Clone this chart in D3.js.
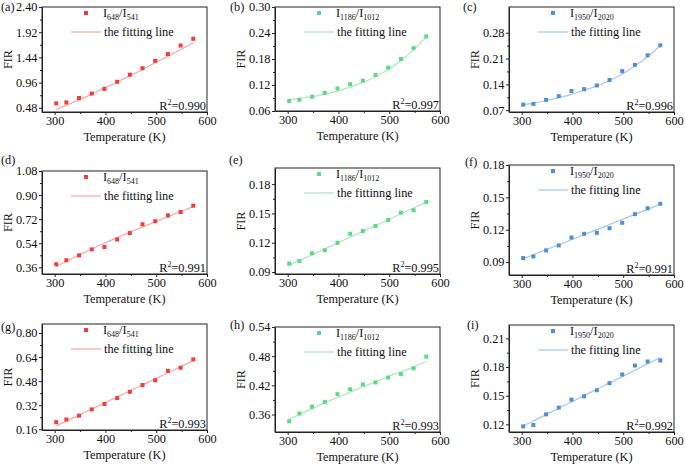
<!DOCTYPE html>
<html>
<head>
<meta charset="utf-8">
<script src="https://cdn.jsdelivr.net/npm/d3@7"></script>
<style>
  html, body { margin: 0; padding: 0; background: #fff; }
  svg { display: block; font-family: 'Liberation Serif', 'Times New Roman', serif; }
  .axis path, .axis line { stroke: #222; }
  .axis text { font-size: 12.3px; fill: #111; font-family: 'Liberation Serif', serif; }
</style>
</head>
<body>
<svg id="chart" width="685" height="466"></svg>
<script>
// temperatures (K) shared by all panels
var temps = [303, 323, 348, 373, 398, 423, 448, 473, 498, 523, 548, 573];
var xTicks = [300, 400, 500, 600];
var xMinor = [350, 450, 550];

var labels = ['(a)', '(b)', '(c)', '(d)', '(e)', '(f)', '(g)', '(h)', '(i)'];
var r2 = ['0.990', '0.997', '0.996', '0.991', '0.995', '0.991', '0.993', '0.993', '0.992'];
var ratios = [['648', '541'], ['1186', '1012'], ['1950', '2020']];
var fitNames = ['the fitting line', 'the fitting line', 'the fitting line',
                'the fitting line', 'the fittinng line', 'the fitting line',
                'the fitting line', 'the fitting line', 'the fitting line'];

// measured FIR values
var firA = [0.564, 0.583, 0.667, 0.751, 0.840, 0.976, 1.111, 1.234, 1.376, 1.505, 1.666, 1.794];
var firB = [0.083, 0.086, 0.093, 0.102, 0.112, 0.122, 0.130, 0.143, 0.160, 0.180, 0.205, 0.232];
var firC = [0.085, 0.087, 0.098, 0.108, 0.122, 0.127, 0.137, 0.152, 0.176, 0.193, 0.219, 0.246];
var firD = [0.383, 0.413, 0.449, 0.494, 0.512, 0.568, 0.616, 0.682, 0.705, 0.748, 0.773, 0.821];
var firE = [0.0986, 0.1013, 0.1092, 0.1123, 0.1199, 0.1292, 0.1319, 0.1371, 0.1433, 0.1508, 0.1532, 0.1618];
var firF = [0.0937, 0.0952, 0.1008, 0.1054, 0.1128, 0.1162, 0.1171, 0.1214, 0.1264, 0.1344, 0.1399, 0.1440];
var firG = [0.207, 0.225, 0.250, 0.292, 0.328, 0.367, 0.409, 0.454, 0.486, 0.548, 0.569, 0.625];
var firH = [0.346, 0.362, 0.376, 0.386, 0.402, 0.412, 0.422, 0.426, 0.436, 0.443, 0.455, 0.479];
var firI = [0.1179, 0.1193, 0.1305, 0.1375, 0.1459, 0.1494, 0.1557, 0.1631, 0.1722, 0.1816, 0.1858, 0.1869];

// fitted curves, read at the same temperatures
var fitA = [0.450, 0.530, 0.630, 0.740, 0.860, 0.970, 1.090, 1.210, 1.340, 1.460, 1.590, 1.720];
var fitB = [0.086, 0.089, 0.093, 0.099, 0.106, 0.115, 0.126, 0.139, 0.156, 0.176, 0.201, 0.231];
var fitC = [0.085, 0.089, 0.096, 0.104, 0.113, 0.124, 0.136, 0.150, 0.168, 0.190, 0.215, 0.245];
var fitD = [0.365, 0.405, 0.452, 0.497, 0.540, 0.582, 0.622, 0.662, 0.700, 0.738, 0.776, 0.814];
var fitE = [0.0970, 0.1018, 0.1077, 0.1137, 0.1197, 0.1257, 0.1316, 0.1376, 0.1436, 0.1496, 0.1555, 0.1615];
var fitF = [0.0931, 0.0968, 0.1015, 0.1061, 0.1108, 0.1155, 0.1201, 0.1248, 0.1295, 0.1342, 0.1389, 0.1437];
var fitG = [0.182, 0.214, 0.254, 0.294, 0.334, 0.375, 0.415, 0.455, 0.495, 0.536, 0.576, 0.616];
var fitH = [0.350, 0.360, 0.372, 0.384, 0.395, 0.406, 0.417, 0.427, 0.438, 0.448, 0.458, 0.469];
var fitI = [0.1183, 0.1236, 0.1302, 0.1369, 0.1435, 0.1501, 0.1568, 0.1634, 0.1700, 0.1767, 0.1833, 0.1900];

var yTicksA = [0.48, 0.96, 1.44, 1.92, 2.40];
var yTicksB = [0.06, 0.12, 0.18, 0.24, 0.30];
var yTicksC = [0.07, 0.14, 0.21, 0.28];
var yTicksD = [0.36, 0.54, 0.72, 0.90, 1.08];
var yTicksE = [0.09, 0.12, 0.15, 0.18];
var yTicksF = [0.09, 0.12, 0.15, 0.18];
var yTicksG = [0.16, 0.32, 0.48, 0.64, 0.80];
var yTicksH = [0.36, 0.42, 0.48, 0.54];
var yTicksI = [0.12, 0.15, 0.18, 0.21];

var yDomains = [[0.40, 2.40], [0.06, 0.30], [0.065, 0.35],
                [0.31, 1.08], [0.088, 0.1965], [0.078, 0.18],
                [0.155, 0.86], [0.324, 0.54], [0.112, 0.224]];

var palette = [
  {dot: '#f43b3b', line: '#f7a6a6'},
  {dot: '#5fd886', line: '#a9e8c0'},
  {dot: '#4f8fd6', line: '#a9c7ea'}
];

// plot boxes: left, top, right, bottom
var boxes = [
  [42, 7, 207, 112], [275, 7, 440, 111], [509, 7, 674, 112],
  [42, 171, 207, 274], [275, 168, 440, 274], [509, 165, 674, 275],
  [42, 324, 207, 430], [275, 327, 440, 432], [509, 325, 674, 432]
];
var labelPos = [[1, 11], [230, 11], [463, 11], [1, 164], [229, 164], [465, 166], [1, 331], [230, 329], [467, 329]];

var firs = [firA, firB, firC, firD, firE, firF, firG, firH, firI];
var fits = [fitA, fitB, fitC, fitD, fitE, fitF, fitG, fitH, fitI];
var yTicks = [yTicksA, yTicksB, yTicksC, yTicksD, yTicksE, yTicksF, yTicksG, yTicksH, yTicksI];

var svg = d3.select('#chart');

function mids(t) {
  var m = [];
  for (var i = 0; i < t.length - 1; i++) m.push((t[i] + t[i + 1]) / 2);
  return m;
}

function drawPanel(i) {
  var b = boxes[i];
  var W = b[2] - b[0], H = b[3] - b[1];
  var col = palette[i % 3];
  var names = ratios[i % 3];

  var x = d3.scaleLinear().domain([275, 600]).range([0, W]);
  var y = d3.scaleLinear().domain(yDomains[i]).range([H, 0]);

  var g = svg.append('g').attr('transform', 'translate(' + b[0] + ',' + b[1] + ')');

  // minor ticks
  g.append('g').attr('class', 'axis').attr('transform', 'translate(0,' + H + ')')
    .call(d3.axisBottom(x).tickValues(xMinor).tickSize(2).tickFormat(''))
    .select('.domain').remove();
  g.append('g').attr('class', 'axis')
    .call(d3.axisLeft(y).tickValues(mids(yTicks[i])).tickSize(2).tickFormat(''))
    .select('.domain').remove();

  var xAxis = d3.axisBottom(x).tickValues(xTicks).tickSize(3).tickSizeOuter(0).tickPadding(1)
    .tickFormat(d3.format('d'));
  g.append('g').attr('class', 'axis').attr('transform', 'translate(0,' + H + ')').call(xAxis);

  var yAxis = d3.axisLeft(y).tickValues(yTicks[i]).tickSize(3).tickSizeOuter(0).tickPadding(1.5)
    .tickFormat(d3.format('.2f'));
  g.append('g').attr('class', 'axis').call(yAxis);

  // box
  g.append('rect').attr('width', W).attr('height', H)
    .attr('fill', 'none').attr('stroke', '#222').attr('stroke-width', 1);

  // fit line
  var line = d3.line()
    .x(function(d, j) { return x(temps[j]); })
    .y(function(d) { return y(d); })
    .curve(d3.curveMonotoneX);
  g.append('path').attr('d', line(fits[i]))
    .attr('fill', 'none').attr('stroke', col.line).attr('stroke-width', 1.2);

  // points
  g.selectAll('rect.pt').data(firs[i]).enter().append('rect')
    .attr('class', 'pt')
    .attr('x', function(d, j) { return x(temps[j]) - 2; })
    .attr('y', function(d) { return y(d) - 2; })
    .attr('width', 4).attr('height', 4)
    .attr('fill', col.dot);

  // legend
  g.append('rect').attr('x', 42).attr('y', 4).attr('width', 4).attr('height', 4).attr('fill', col.dot);
  var t1 = g.append('text').attr('x', 61).attr('y', 10).attr('font-size', 12.3).attr('fill', '#111');
  t1.append('tspan').text('I');
  t1.append('tspan').attr('font-size', 8).attr('dy', 3).text(names[0]);
  t1.append('tspan').attr('dy', -3).text('/I');
  t1.append('tspan').attr('font-size', 8).attr('dy', 3).text(names[1]);

  g.append('line').attr('x1', 29).attr('x2', 59).attr('y1', 25).attr('y2', 25)
    .attr('stroke', col.line).attr('stroke-width', 1.2);
  g.append('text').attr('x', 62).attr('y', 29).attr('font-size', 12.3).attr('fill', '#111')
    .text(fitNames[i]);

  // R^2
  var rt = g.append('text').attr('x', W - 1).attr('y', H - 2).attr('text-anchor', 'end')
    .attr('font-size', 12.3).attr('fill', '#111');
  rt.append('tspan').text('R');
  rt.append('tspan').attr('font-size', 8).attr('dy', -5).text('2');
  rt.append('tspan').attr('dy', 5).text('=' + r2[i]);

  // axis titles
  g.append('text').attr('x', W / 2).attr('y', H + 29).attr('text-anchor', 'middle')
    .attr('font-size', 12.3).attr('fill', '#111').text('Temperature (K)');
  g.append('text').attr('transform', 'translate(' + (-30) + ',' + (H / 2) + ') rotate(-90)')
    .attr('text-anchor', 'middle').attr('font-size', 12.3).attr('fill', '#111').text('FIR');

  svg.append('text').attr('x', labelPos[i][0]).attr('y', labelPos[i][1])
    .attr('font-size', 12.3).attr('fill', '#111').text(labels[i]);
}

for (var i = 0; i < 9; i++) drawPanel(i);
</script>
</body>
</html>
